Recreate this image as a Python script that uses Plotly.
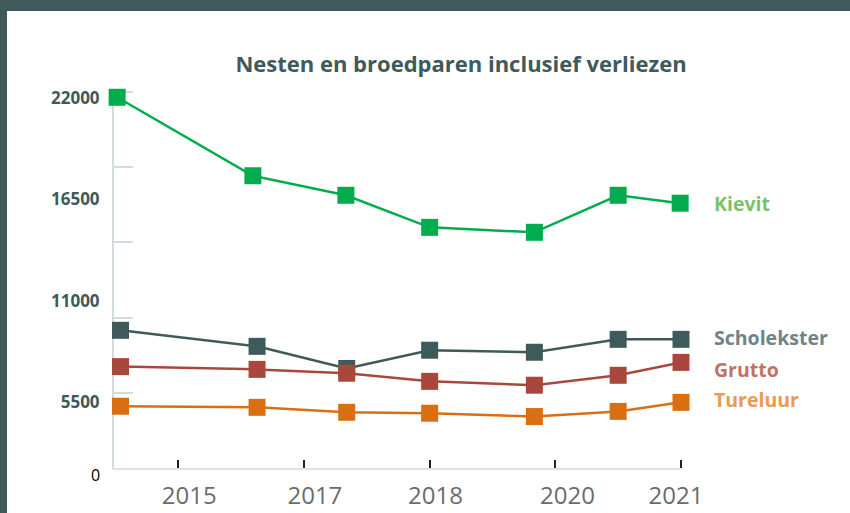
import plotly.graph_objects as go

# ---- data ----
x_kievit = [2014.27, 2015.89, 2017.00, 2018.00, 2019.25, 2020.25, 2020.99]
x_other = [2014.31, 2015.94, 2017.01, 2018.00, 2019.25, 2020.25, 2021.00]

kievit = [22050, 17790, 16730, 14990, 14720, 16730, 16300]
scholekster = [9400, 8530, 7330, 8320, 8210, 8910, 8910]
grutto = [7430, 7280, 7070, 6630, 6420, 6960, 7660]
tureluur = [5280, 5220, 4950, 4900, 4720, 5000, 5490]

series_names = ["Kievit", "Scholekster", "Grutto", "Tureluur"]
line_colors = ["#00ac4e", "#3f5a5a", "#a8483c", "#d96f10"]
label_colors = ["#7cc06b", "#6d8586", "#c07363", "#e99a55"]
label_y = [16270, 9020, 7280, 5620]

# x axis: tick marks and label positions
x_tick_marks = [2015, 2016.5, 2018, 2019.5, 2021]
x_label_pos = [2015.13, 2016.63, 2018.07, 2019.645, 2020.94]
x_tick_text = ["2015", "2017", "2018", "2020", "2021"]

# y axis
y_label_vals = [5500, 11000, 16500, 22000]
y_label_text = ["5500", "11000", "16500", "22000"]
y_tick_marks = [6025, 10096, 14178, 18249, 22336]

title = "Nesten en broedparen inclusief verliezen"

frame = "#3f5a5a"

W, H = 850, 513
l, r, t, b = 114, 169, 92, 45
pw, ph = W - l - r, H - t - b
def px(xp):
    return (xp - l) / pw
def py(yp):
    return (H - b - yp) / ph

fig = go.Figure()
all_vals = [kievit, scholekster, grutto, tureluur]
all_x = [x_kievit, x_other, x_other, x_other]
for name, xs, ys, col in zip(series_names, all_x, all_vals, line_colors):
    fig.add_trace(go.Scatter(
        x=xs, y=ys, name=name, mode="lines+markers",
        line=dict(color=col, width=2.5),
        marker=dict(symbol="square", size=17, color=col, line=dict(width=0)),
        cliponaxis=False, showlegend=False,
    ))

for name, yv, col in zip(series_names, label_y, label_colors):
    fig.add_annotation(
        x=px(712), y=yv, xref="paper", yref="y", text=name, showarrow=False,
        xanchor="left", yanchor="middle",
        font=dict(family="Open Sans", size=19.5, color=col, weight="bold"),
    )

fig.add_annotation(
    x=px(102), y=py(475), xref="paper", yref="paper", text="0", showarrow=False,
    xanchor="right", yanchor="middle",
    font=dict(family="Open Sans", size=16, color="#000000"),
)

# frame bands
fig.add_shape(type="rect", xref="paper", yref="paper",
              x0=px(0), x1=px(W), y0=py(11), y1=py(0),
              fillcolor=frame, line=dict(width=0), layer="below")
fig.add_shape(type="rect", xref="paper", yref="paper",
              x0=px(0), x1=px(7), y0=py(H), y1=py(0),
              fillcolor=frame, line=dict(width=0), layer="below")

fig.update_layout(
    width=W, height=H,
    margin=dict(l=l, r=r, t=t, b=b, pad=0, autoexpand=False),
    paper_bgcolor="#ffffff", plot_bgcolor="rgba(0,0,0,0)",
    title=dict(text=title, x=461 / W, xref="container", xanchor="center",
               y=1 - 64 / H, yref="container", yanchor="middle",
               font=dict(family="Open Sans", size=22, color=frame, weight="bold")),
    xaxis=dict(
        range=[2014.2325, 2021.0], showgrid=False, zeroline=False,
        automargin=False, layer="below traces",
        showline=True, linecolor="#dde2e2", linewidth=2,
        tickmode="array", tickvals=x_label_pos, ticktext=x_tick_text,
        ticks="", ticklabelstandoff=5,
        tickfont=dict(family="Open Sans", size=24, color="#6b6b6b"),
        minor=dict(tickmode="array", tickvals=x_tick_marks, ticks="inside",
                   ticklen=8, tickwidth=1.5, tickcolor="#222222", showgrid=False),
    ),
    yaxis=dict(
        range=[1927, 22336], showgrid=False, zeroline=False,
        automargin=False, layer="below traces",
        showline=True, linecolor="#d3dcdc", linewidth=2,
        tickmode="array", tickvals=y_label_vals, ticktext=y_label_text,
        ticks="", ticklabelstandoff=9,
        tickfont=dict(family="Open Sans", size=17, color=frame, weight="bold"),
        minor=dict(tickmode="array", tickvals=y_tick_marks, ticks="inside",
                   ticklen=19, tickwidth=2, tickcolor="#d3dcdc", showgrid=False),
    ),
)

fig.write_html("out.html", config={"displayModeBar": False},
               post_script="document.body.style.margin='0';document.body.style.overflow='hidden';")
